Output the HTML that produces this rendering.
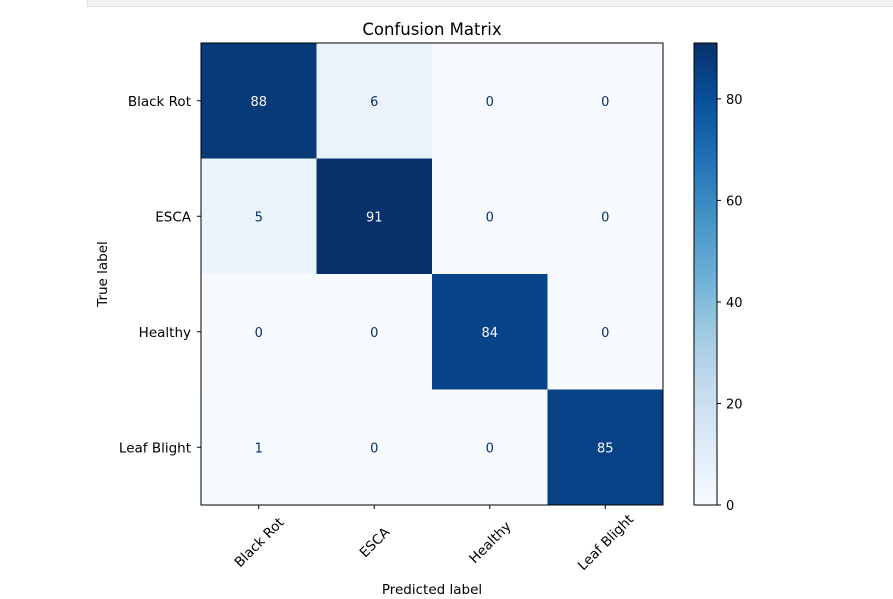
<!DOCTYPE html>
<html><head><meta charset="utf-8"><style>
body{margin:0;background:#fff;width:893px;height:599px;overflow:hidden;font-family:"Liberation Sans","DejaVu Sans",sans-serif}
svg text{font-family:"DejaVu Sans","Liberation Sans",sans-serif}
</style></head><body>
<div style="position:absolute;left:87px;top:-1px;width:820px;height:6px;background:#f2f2f2;border:1px solid #e0e0e0"></div>
<svg id="chart" width="893" height="599" style="position:absolute;left:0;top:0">
<defs><linearGradient id="cb" x1="0" y1="1" x2="0" y2="0"></linearGradient></defs>
</svg>
<script>
const categories=["Black Rot","ESCA","Healthy","Leaf Blight"];
const row0=[88,6,0,0];
const row1=[5,91,0,0];
const row2=[0,0,84,0];
const row3=[1,0,0,85];
const cbTicks=[0,20,40,60,80];
const matrix=[row0,row1,row2,row3];
const NS="http://www.w3.org/2000/svg";
const svg=document.getElementById('chart');
const stops=["#f7fbff","#deebf7","#c6dbef","#9ecae1","#6baed6","#4292c6","#2171b5","#08519c","#08306b"];
function hex(h){return [1,3,5].map(i=>parseInt(h.substr(i,2),16));}
function cmap(t){t=Math.max(0,Math.min(1,t));const p=t*(stops.length-1);const i=Math.min(Math.floor(p),stops.length-2);const f=p-i;const a=hex(stops[i]),b=hex(stops[i+1]);return `rgb(${a.map((v,k)=>Math.round(v+(b[k]-v)*f)).join(',')})`;}
function mk(tag,attrs,txt){const e=document.createElementNS(NS,tag);for(const k in attrs)e.setAttribute(k,attrs[k]);if(txt!==undefined)e.textContent=txt;svg.appendChild(e);return e;}
const all=matrix.flat();const vmin=Math.min(...all),vmax=Math.max(...all);
const X0=201,Y0=43,W=462,H=462,n=categories.length,cw=W/n,ch=H/n;
const xPos=j=>X0+cw*(j+0.5), yPos=i=>Y0+ch*(i+0.5);
matrix.forEach((row,i)=>row.forEach((v,j)=>{
 const r=mk('rect',{x:X0+cw*j,y:Y0+ch*i,width:cw+0.5,height:ch+0.5,fill:cmap((v-vmin)/(vmax-vmin))});
 
 
 const t=mk('text',{x:xPos(j),y:yPos(i)+5,'text-anchor':'middle','font-size':13,fill:v>(vmax+vmin)/2?'#f7fbff':'#08306b'},String(v));
 
 
}));
const fr=mk('rect',{x:X0,y:Y0,width:W,height:H,fill:'none',stroke:'#000','stroke-width':1});


categories.forEach((c,k)=>{
 mk('line',{x1:X0-4,x2:X0,y1:yPos(k),y2:yPos(k),stroke:'#000'});
 const yl=mk('text',{x:X0-10,y:yPos(k)+5,'text-anchor':'end','font-size':13.5,fill:'#000'},c);
 
 
 mk('line',{x1:xPos(k),x2:xPos(k),y1:Y0+H,y2:Y0+H+4,stroke:'#000'});
 const cy=Y0+H+37;
 const xl=mk('text',{x:xPos(k),y:cy+5,'text-anchor':'middle','font-size':13.5,fill:'#000',transform:`rotate(-45 ${xPos(k)} ${cy})`},c);
 
 
});
const title=mk('text',{x:X0+W/2,y:35,'text-anchor':'middle','font-size':16.5,fill:'#000'},'Confusion Matrix');


const xt=mk('text',{x:X0+W/2,y:594,'text-anchor':'middle','font-size':13.5,fill:'#000'},'Predicted label');


const yt=mk('text',{x:107,y:Y0+H/2,'text-anchor':'middle','font-size':13.5,fill:'#000',transform:`rotate(-90 107 ${Y0+H/2})`},'True label');


const g=document.getElementById('cb');
stops.forEach((s,k)=>{const st=document.createElementNS(NS,'stop');st.setAttribute('offset',k/(stops.length-1));st.setAttribute('stop-color',s);g.appendChild(st);});
const CX=694,CW=23;
const cbY=v=>Y0+H-(v-vmin)/(vmax-vmin)*H;
const cb=mk('rect',{x:CX,y:Y0,width:CW,height:H,fill:'url(#cb)',stroke:'#000','stroke-width':1});


cbTicks.forEach(v=>{
 mk('line',{x1:CX+CW,x2:CX+CW+4,y1:cbY(v),y2:cbY(v),stroke:'#000'});
 const t=mk('text',{x:CX+CW+9,y:cbY(v)+5,'font-size':13,fill:'#000'},String(v));
 
 
});
</script>
</body></html>
